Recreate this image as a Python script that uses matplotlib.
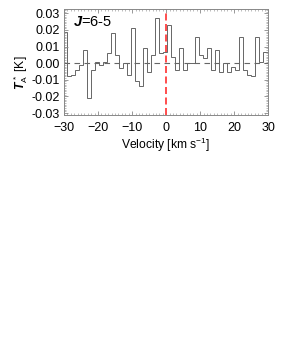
import numpy as np
import matplotlib
matplotlib.use('Agg')
import matplotlib.pyplot as plt
from matplotlib.ticker import MultipleLocator, FormatStrFormatter

# channel centres [km/s] and antenna temperature [K]
velocity = [-29.61, -28.44, -27.27, -26.09, -24.92, -23.75, -22.58, -21.41,
            -20.23, -19.06, -17.89, -16.72, -15.55, -14.37, -13.20, -12.03,
            -10.86, -9.69, -8.51, -7.34, -6.17, -5.00, -3.83, -2.65,
            -1.48, -0.31, 0.86, 2.03, 3.21, 4.38, 5.55, 6.72,
            7.89, 9.07, 10.24, 11.41, 12.58, 13.75, 14.93, 16.10,
            17.27, 18.44, 19.61, 20.79, 21.96, 23.13, 24.30, 25.47,
            26.65, 27.82, 28.99]
t_a = [0.019, -0.008, -0.007, -0.004, -0.001, 0.008, -0.021, -0.004,
       0.001, -0.001, 0.001, 0.006, 0.018, 0.005, -0.003, 0.000,
       -0.007, 0.021, -0.011, -0.014, 0.009, -0.005, 0.005, 0.027,
       0.006, 0.007, 0.023, 0.004, -0.004, 0.009, -0.004, 0.000,
       0.000, 0.016, 0.005, 0.003, 0.009, -0.004, 0.008, -0.005,
       0.000, -0.005, -0.002, -0.004, 0.016, -0.004, -0.007, -0.008,
       0.016, 0.001, 0.007]
v_sys = 0.0
label = r'$\mathbfit{J}$=6-5'

plt.rcParams['font.family'] = ['Liberation Sans', 'DejaVu Sans']
plt.rcParams['mathtext.fontset'] = 'custom'
plt.rcParams['mathtext.rm'] = 'Liberation Sans'
plt.rcParams['mathtext.it'] = 'Liberation Sans:italic'
plt.rcParams['mathtext.bf'] = 'Liberation Sans:bold'
plt.rcParams['mathtext.bfit'] = 'Liberation Sans:bold:italic'

fig = plt.figure(figsize=(2.87, 3.47), dpi=100)
ax = fig.add_axes([0.223, 0.668, 0.712, 0.306])

v = np.array(velocity)
half = (v[1] - v[0]) / 2
edges = np.concatenate(([v[0] - half - 0.6], (v[:-1] + v[1:]) / 2, [v[-1] + half + 0.6]))
ax.stairs(t_a, edges, baseline=None, color='#666666', lw=0.7)

ax.axhline(0, color='#666666', lw=0.8, ls=(0, (5, 4)))
ax.axvline(v_sys, color='#ff4d4d', lw=1.4, ls=(0, (3.6, 1.8)))

ax.set_xlim(-30, 30)
ax.set_ylim(-0.0313, 0.0326)
ax.xaxis.set_major_locator(MultipleLocator(10))
ax.xaxis.set_minor_locator(MultipleLocator(1))
ax.yaxis.set_major_locator(MultipleLocator(0.01))
ax.yaxis.set_minor_locator(MultipleLocator(0.001))
ax.yaxis.set_major_formatter(FormatStrFormatter('%.2f'))
ax.tick_params(which='both', direction='in', top=True, right=True,
               color='#888888', labelsize=9, pad=3)
ax.tick_params(axis='x', which='major', pad=5)
ax.tick_params(which='major', length=3, width=0.6)
ax.tick_params(which='minor', length=1.3, width=0.4)
for s in ax.spines.values():
    s.set_color('#888888')
    s.set_linewidth(0.7)

ax.text(-27.3, 0.0225, label, fontsize=10.5)
ax.set_xlabel(r'Velocity [km s$^{-1}$]', fontsize=8.7, labelpad=1.5)
ax.set_ylabel(r'$\mathbfit{T}_{\rm A}^{\,*}$ [K]', fontsize=8.7)
ax.yaxis.set_label_coords(-0.165, 0.40)

fig.savefig('out.png', dpi=100)
